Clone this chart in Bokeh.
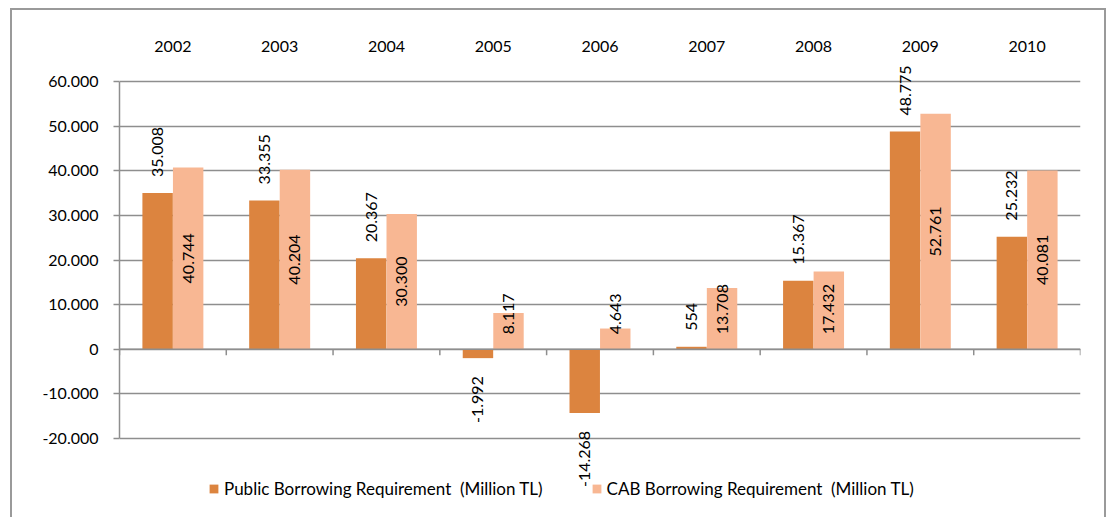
import math

from bokeh.core.properties import value
from bokeh.embed import file_html
from bokeh.models import ColumnDataSource, FactorRange, FixedTicker, Range1d, Span
from bokeh.plotting import figure
from bokeh.resources import INLINE
from bokeh.transform import dodge

# ---- data -------------------------------------------------------------
years = ["2002", "2003", "2004", "2005", "2006", "2007", "2008", "2009", "2010"]
public_req = [35008, 33355, 20367, -1992, -14268, 554, 15367, 48775, 25232]
cab_req = [40744, 40204, 30300, 8117, 4643, 13708, 17432, 52761, 40081]
y_ticks = [-20000, -10000, 0, 10000, 20000, 30000, 40000, 50000, 60000]
y_tick_labels = ["-20.000", "-10.000", "0", "10.000", "20.000", "30.000", "40.000", "50.000", "60.000"]
series_names = ["Public Borrowing Requirement  (Million TL)", "CAB Borrowing Requirement  (Million TL)"]

# ---- layout (pixels inside the bordered chart area) ---------------------
W, H = 1096, 509                 # drawing area inside the grey border
FRAME_L, FRAME_R = 107, 1068     # plot frame, x
FRAME_T = 50                     # plot frame top (frame runs to the bottom edge)
Y_TOP_PX, Y_BOT_PX = 71, 428     # where the top / bottom tick values sit
FONT = "Lato"
FS = "16px"
LEGEND_FS = "17px"
DARK = "#DC843F"
LIGHT = "#F8B793"
GRID = "#8E8E8E"
BAR_W = 0.285
SHIFT = 0.143

Y0, Y1 = y_ticks[0], y_ticks[-1]
px_per_unit = (Y_BOT_PX - Y_TOP_PX) / (Y1 - Y0)
y_start = Y0 - (H - Y_BOT_PX) / px_per_unit
y_end = Y1 + (Y_TOP_PX - FRAME_T) / px_per_unit


def fmt(v):
    return f"{v:,}".replace(",", ".")


def text_len_px(s):
    # rough advance width of the label font at FS
    return sum(4.2 if c in ".-" else 9.3 for c in s)


pub_labels = [fmt(v) for v in public_req]
cab_labels = [fmt(v) for v in cab_req]

# public labels sit outside the bar end; CAB labels centred in the bar,
# but kept a little above the zero line when the bar is short
pub_align = ["left" if v >= 0 else "right" for v in public_req]
pub_yoff = [-16 if v >= 0 else 18 for v in public_req]

cab_y, cab_align, cab_yoff = [], [], []
for v, s in zip(cab_req, cab_labels):
    half = text_len_px(s) / 2
    if v * px_per_unit / 2 - half < 15:
        cab_y.append(0)
        cab_align.append("left")
        cab_yoff.append(-15)
    else:
        cab_y.append(v / 2)
        cab_align.append("center")
        cab_yoff.append(0)

src = ColumnDataSource(dict(
    year=years, public=public_req, cab=cab_req,
    pub_label=pub_labels, pub_align=pub_align, pub_yoff=pub_yoff,
    cab_label=cab_labels, cab_y=cab_y, cab_align=cab_align, cab_yoff=cab_yoff,
))

p = figure(
    x_range=FactorRange(*years), y_range=Range1d(y_start, y_end),
    width=W, height=H, output_backend="svg", toolbar_location=None,
    x_axis_location="above",
    min_border_left=FRAME_L, min_border_right=W - FRAME_R,
    min_border_top=FRAME_T, min_border_bottom=0,
)
p.outline_line_color = None
p.background_fill_color = "white"
p.border_fill_color = "white"
p.margin = (8, 0, 0, 10)
p.styles = {
    "border-left": "2px solid #9A9A9A",
    "border-top": "2px solid #9A9A9A",
    "border-right": "2px solid #9A9A9A",
}

# category axis along the top
p.xaxis.axis_line_color = None
p.xaxis.major_tick_line_color = None
p.xaxis.minor_tick_line_color = None
p.xaxis.major_tick_out = 0
p.xaxis.major_label_standoff = 9
p.xaxis.major_label_text_font = FONT
p.xaxis.major_label_text_font_size = FS
p.xaxis.major_label_text_color = "black"
p.xgrid.visible = False

# value axis
p.yaxis.bounds = (Y0, Y1)
p.yaxis.ticker = FixedTicker(ticks=y_ticks)
p.yaxis.major_label_overrides = {t: s for t, s in zip(y_ticks, y_tick_labels)}
p.yaxis.axis_line_color = GRID
p.yaxis.axis_line_width = 1.5
p.yaxis.major_tick_line_color = GRID
p.yaxis.major_tick_line_width = 1.5
p.yaxis.major_tick_out = 6
p.yaxis.major_tick_in = 0
p.yaxis.minor_tick_line_color = None
p.yaxis.major_label_standoff = 15
p.yaxis.major_label_text_font = FONT
p.yaxis.major_label_text_font_size = FS
p.yaxis.major_label_text_color = "black"
p.ygrid.ticker = FixedTicker(ticks=y_ticks)
p.ygrid.grid_line_color = GRID
p.ygrid.grid_line_width = 1.5

# bars
p.vbar(x=dodge("year", -SHIFT, range=p.x_range), top="public", bottom=0, width=BAR_W,
       source=src, fill_color=DARK, line_color=None, legend_label=series_names[0])
p.vbar(x=dodge("year", SHIFT, range=p.x_range), top="cab", bottom=0, width=BAR_W,
       source=src, fill_color=LIGHT, line_color=None, legend_label=series_names[1])

# zero line with category-boundary ticks below it
p.add_layout(Span(location=0, dimension="width", line_color=GRID, line_width=1.5))
tick_len = 6 / px_per_unit
p.segment(x0=dodge("year", -0.5, range=p.x_range), x1=dodge("year", -0.5, range=p.x_range),
          y0=0, y1=-tick_len, source=src, line_color=GRID, line_width=1.5)
last = ColumnDataSource(dict(year=[years[-1]]))
p.segment(x0=dodge("year", 0.5, range=p.x_range), x1=dodge("year", 0.5, range=p.x_range),
          y0=0, y1=-tick_len, source=last, line_color=GRID, line_width=1.5)

# value labels
p.text(x=dodge("year", -SHIFT, range=p.x_range), y="public", text="pub_label", source=src,
       angle=math.pi / 2, text_align="pub_align", text_baseline="middle", y_offset="pub_yoff",
       text_font=value(FONT), text_font_size=FS, text_color="black")
p.text(x=dodge("year", SHIFT, range=p.x_range), y="cab_y", text="cab_label", source=src,
       angle=math.pi / 2, text_align="cab_align", text_baseline="middle", y_offset="cab_yoff",
       text_font=value(FONT), text_font_size=FS, text_color="black")

# legend under the bars
lg = p.legend[0]
lg.orientation = "horizontal"
lg.location = (89, 20)
lg.border_line_color = None
lg.background_fill_alpha = 0
lg.padding = 0
lg.margin = 0
lg.spacing = 48
lg.glyph_width = 11
lg.glyph_height = 11
lg.label_standoff = 5
lg.label_height = 20
lg.label_text_font = FONT
lg.label_text_font_size = LEGEND_FS
lg.label_text_color = "black"

open("out.html", "w").write(file_html(p, INLINE))
